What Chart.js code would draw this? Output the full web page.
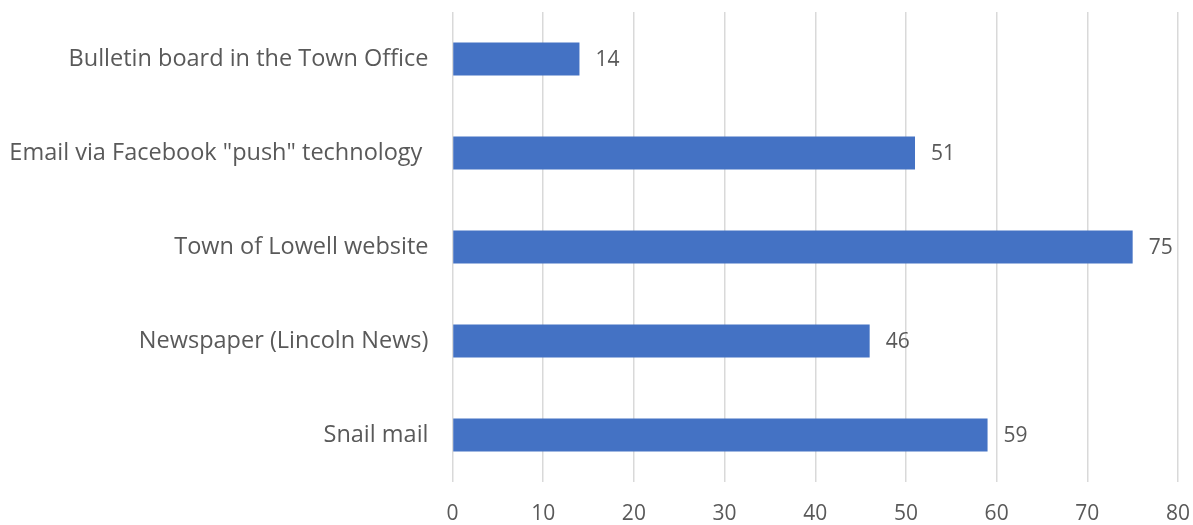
<!DOCTYPE html>
<html>
<head>
<meta charset="utf-8">
<script src="https://cdn.jsdelivr.net/npm/chart.js@4/dist/chart.umd.min.js"></script>
<style>
  html, body { margin: 0; padding: 0; background: #ffffff; }
  #wrap { width: 1193px; height: 525px; position: relative; }
</style>
</head>
<body>
<div id="wrap"><canvas id="c"></canvas></div>
<script>
// Survey responses: preferred way of receiving town news
const categories = [
  'Bulletin board in the Town Office',
  'Email via Facebook "push" technology ',
  'Town of Lowell website',
  'Newspaper (Lincoln News)',
  'Snail mail'
];
const responses = [14, 51, 75, 46, 59];
const axisMin = 0;
const axisMax = 80;
const axisStep = 10;

const FONT = '"Open Sans", Lato, sans-serif';
const TEXT = '#595959';

// Writes each bar's value just past its end
const valueLabels = {
  id: 'valueLabels',
  afterDatasetsDraw(chart) {
    const { ctx } = chart;
    const meta = chart.getDatasetMeta(0);
    ctx.save();
    ctx.font = '21px ' + FONT;
    ctx.fillStyle = TEXT;
    ctx.textAlign = 'left';
    ctx.textBaseline = 'middle';
    meta.data.forEach((bar, i) => {
      ctx.fillText(String(responses[i]), bar.x + 16, bar.y + 1);
    });
    ctx.restore();
  }
};

new Chart(document.getElementById('c'), {
  type: 'bar',
  data: {
    labels: categories,
    datasets: [{
      data: responses,
      backgroundColor: '#4472C4',
      borderWidth: 0,
      categoryPercentage: 1,
      barPercentage: 0.35
    }]
  },
  options: {
    indexAxis: 'y',
    responsive: true,
    maintainAspectRatio: false,
    animation: false,
    layout: { padding: { top: 12, right: 15, bottom: 0, left: 0 } },
    plugins: {
      legend: { display: false },
      tooltip: { enabled: false }
    },
    scales: {
      x: {
        min: axisMin,
        max: axisMax,
        ticks: {
          stepSize: axisStep,
          color: TEXT,
          font: { family: FONT, size: 21 },
          padding: 19
        },
        grid: { color: '#d9d9d9', lineWidth: 1.5, drawTicks: false },
        border: { display: false },
        afterFit(scale) {
          scale.height = 43;
          scale.paddingLeft = 0;
          scale.paddingRight = 0;
        }
      },
      y: {
        ticks: {
          color: TEXT,
          font: { family: FONT, size: 23.5 },
          padding: 24
        },
        grid: { display: false, drawTicks: false },
        border: { display: false },
        afterFit(scale) {
          scale.width = 452.5;
          scale.paddingTop = 0;
          scale.paddingBottom = 0;
        }
      }
    }
  },
  plugins: [valueLabels]
});
</script>
</body>
</html>
